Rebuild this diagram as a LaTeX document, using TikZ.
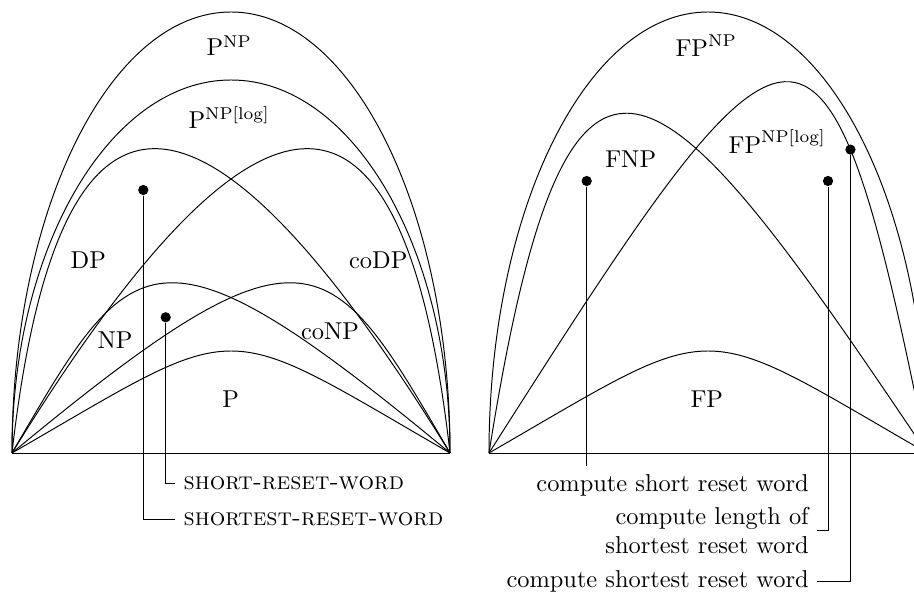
\documentclass[tikz,border=0pt]{standalone}
\begin{document}
\begin{tikzpicture}[x=0.4098pt,y=0.4098pt,
  curve/.style={line width=0.4pt},
  dotmark/.style={circle,fill=black,inner sep=0pt,minimum size=4.2pt},
  leader/.style={line width=0.4pt},
  cls/.style={anchor=base,inner sep=0pt},
  lbl/.style={inner sep=3.33pt}]
\useasboundingbox (0,0) rectangle (914,595);
\clip (0,0) rectangle (914,595);
% ---------------- left diagram ----------------
\begin{scope}[shift={(12,142)}]
  \coordinate (L0) at (0,0);
  \coordinate (L1) at (438,0);
  \draw[curve] (L0) -- (L1);
  \draw[curve] (L0) arc[start angle=180,end angle=0,x radius=219,y radius=441];
  \draw[curve] (L0) arc[start angle=180,end angle=0,x radius=219,y radius=373];
  \draw[curve] (L0) .. controls (50,440) and (210,370) .. (L1);
  \draw[curve] (L0) .. controls (228,370) and (388,440) .. (L1);
  \draw[curve] (L0) .. controls (120,206) and (140,247) .. (L1);
  \draw[curve] (L0) .. controls (298,247) and (318,206) .. (L1);
  \draw[curve] (L0) .. controls (235.6,136) and (202.4,136) .. (L1);
  \node[dotmark] (d1) at (131.3,263) {};
  \node[dotmark] (d2) at (153.7,135.7) {};
\end{scope}
\node[cls] (pnp) at (229.2,539) {$\mathrm{P}^{\mathrm{NP}}$};
\node[cls] (pnplog) at (229.2,466.7) {$\mathrm{P}^{\mathrm{NP[log]}}$};
\node[cls] (dp) at (88.3,326.7) {DP};
\node[cls] (codp) at (378.3,326.7) {coDP};
\node[cls] (np) at (115,246.7) {NP};
\node[cls] (conp) at (330,255) {coNP};
\node[cls] (p) at (230.8,187.7) {P};
\node[lbl,anchor=west] (l1) at (175,111.7) {\textsc{short-reset-word}};
\node[lbl,anchor=west] (l2) at (175,75.7) {\textsc{shortest-reset-word}};
\draw[leader] (d2) |- (l1.west);
\draw[leader] (d1) |- (l2.west);
% ---------------- right diagram ----------------
\begin{scope}[shift={(489,142)}]
  \coordinate (R0) at (0,0);
  \coordinate (R1) at (438,0);
  \draw[curve] (R0) -- (R1);
  \draw[curve] (R0) arc[start angle=180,end angle=0,x radius=219,y radius=441];
  \draw[curve] (R0) .. controls (80,504) and (170,399) .. (R1);
  \draw[curve] (R0) .. controls (305,480) and (336,510) .. (R1)
     node[pos=0.72,dotmark] (d5) {};
  \draw[curve] (R0) .. controls (235.6,136) and (202.4,136) .. (R1);
  \node[dotmark] (d3) at (97.7,272) {};
  \node[dotmark] (d4) at (339,272) {};
\end{scope}
\node[cls] (fpnp) at (706.2,538.3) {$\mathrm{FP}^{\mathrm{NP}}$};
\node[cls] (fnp) at (630.7,427.3) {FNP};
\node[cls] (fpnplog) at (777.3,441.7) {$\mathrm{FP}^{\mathrm{NP[log]}}$};
\node[cls] (fp) at (706.8,187.3) {FP};
\node[lbl,anchor=east] (r1) at (817.3,110) {compute short reset word};
\node[lbl,anchor=east,align=right] (r2) at (817.3,64.3) {compute length of\\shortest reset word};
\node[lbl,anchor=east] (r3) at (817.3,14) {compute shortest reset word};
\draw[leader] (d3) -- (d3 |- r1.north);
\draw[leader] (d4) |- (r2.east);
\draw[leader] (d5) |- (r3.east);
\end{tikzpicture}
\end{document}
